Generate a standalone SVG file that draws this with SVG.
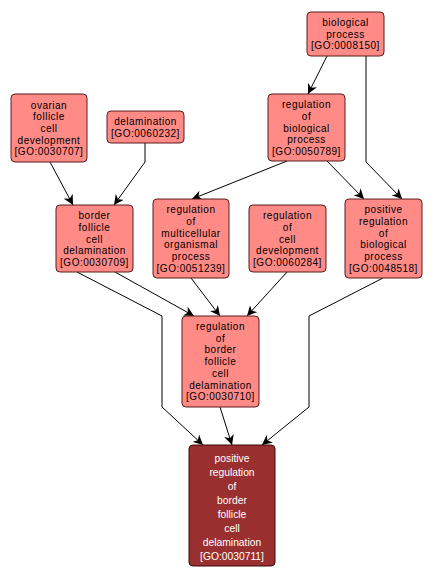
<svg xmlns="http://www.w3.org/2000/svg" width="433" height="580" viewBox="0 0 433 580">
<defs>
<style>
.n rect{fill:#FF8A86;stroke:#5a1a1a;stroke-width:1}
.n text{font-family:"Liberation Sans",Arial,sans-serif;font-size:10px;letter-spacing:0.5px;fill:#000;text-anchor:middle}
.d rect{fill:#9A2F2F;stroke:#3a0a0a;stroke-width:1}
.d text{font-family:"Liberation Sans",Arial,sans-serif;font-size:10.3px;fill:#fff;text-anchor:middle}
.e{fill:none;stroke:#000;stroke-width:1;marker-end:url(#a)}
</style>
<marker id="a" markerUnits="userSpaceOnUse" markerWidth="10" markerHeight="10" viewBox="0 0 10 10" refX="10" refY="5" orient="auto">
<path d="M0,0 L10,5 L0,10 L3,5 z" fill="#000"/>
</marker>
</defs>
<rect width="433" height="580" fill="#fff"/>
<g id="edges">
<path class="e" d="M327,56 L308,94"/>
<path class="e" d="M366,56 L366,162 L402,199"/>
<path class="e" d="M287,161 L192,199"/>
<path class="e" d="M327,161 L364,199"/>
<path class="e" d="M50,162 L73,205"/>
<path class="e" d="M145,143 L145,162 L114,205"/>
<path class="e" d="M77,272 L162,316 L162,407 L203,445"/>
<path class="e" d="M115,272 L194,316"/>
<path class="e" d="M191,278 L220,316"/>
<path class="e" d="M287,272 L247,316"/>
<path class="e" d="M383,278 L309,316 L309,407 L262,445"/>
<path class="e" d="M220,407 L232,445"/>
</g>
<g id="GO0008150" class="n">
<rect x="307" y="12" width="77" height="44" rx="4"/>
<text x="345.5" y="26">biological</text>
<text x="345.5" y="37.7">process</text>
<text x="345.5" y="49.4">[GO:0008150]</text>
</g>
<g id="GO0030707" class="n">
<rect x="11" y="94" width="76" height="68" rx="4"/>
<text x="49" y="108.6">ovarian</text>
<text x="49" y="120.3">follicle</text>
<text x="49" y="132">cell</text>
<text x="49" y="143.7">development</text>
<text x="49" y="155.4">[GO:0030707]</text>
</g>
<g id="GO0060232" class="n">
<rect x="107" y="111" width="77" height="32" rx="4"/>
<text x="145.5" y="125.2">delamination</text>
<text x="145.5" y="136.9">[GO:0060232]</text>
</g>
<g id="GO0050789" class="n">
<rect x="268" y="94" width="77" height="67" rx="4"/>
<text x="306.5" y="108.1">regulation</text>
<text x="306.5" y="119.8">of</text>
<text x="306.5" y="131.5">biological</text>
<text x="306.5" y="143.2">process</text>
<text x="306.5" y="154.9">[GO:0050789]</text>
</g>
<g id="GO0030709" class="n">
<rect x="56" y="205" width="77" height="67" rx="4"/>
<text x="94.5" y="219.1">border</text>
<text x="94.5" y="230.8">follicle</text>
<text x="94.5" y="242.5">cell</text>
<text x="94.5" y="254.2">delamination</text>
<text x="94.5" y="265.9">[GO:0030709]</text>
</g>
<g id="GO0051239" class="n">
<rect x="153" y="199" width="76" height="79" rx="4"/>
<text x="191" y="213.3">regulation</text>
<text x="191" y="225">of</text>
<text x="191" y="236.7">multicellular</text>
<text x="191" y="248.4">organismal</text>
<text x="191" y="260.1">process</text>
<text x="191" y="271.8">[GO:0051239]</text>
</g>
<g id="GO0060284" class="n">
<rect x="249" y="205" width="77" height="67" rx="4"/>
<text x="287.5" y="219.1">regulation</text>
<text x="287.5" y="230.8">of</text>
<text x="287.5" y="242.5">cell</text>
<text x="287.5" y="254.2">development</text>
<text x="287.5" y="265.9">[GO:0060284]</text>
</g>
<g id="GO0048518" class="n">
<rect x="345" y="199" width="77" height="79" rx="4"/>
<text x="383.5" y="213.3">positive</text>
<text x="383.5" y="225">regulation</text>
<text x="383.5" y="236.7">of</text>
<text x="383.5" y="248.4">biological</text>
<text x="383.5" y="260.1">process</text>
<text x="383.5" y="271.8">[GO:0048518]</text>
</g>
<g id="GO0030710" class="n">
<rect x="182" y="316" width="77" height="91" rx="4"/>
<text x="220.5" y="330">regulation</text>
<text x="220.5" y="341.7">of</text>
<text x="220.5" y="353.4">border</text>
<text x="220.5" y="365.1">follicle</text>
<text x="220.5" y="376.8">cell</text>
<text x="220.5" y="388.5">delamination</text>
<text x="220.5" y="400.2">[GO:0030710]</text>
</g>
<g id="GO0030711" class="d">
<rect x="189" y="445" width="86" height="121" rx="4"/>
<text x="232" y="461.5">positive</text>
<text x="232" y="475.5">regulation</text>
<text x="232" y="489.5">of</text>
<text x="232" y="503.5">border</text>
<text x="232" y="517.5">follicle</text>
<text x="232" y="531.5">cell</text>
<text x="232" y="545.5">delamination</text>
<text x="232" y="559.5">[GO:0030711]</text>
</g>
</svg>
